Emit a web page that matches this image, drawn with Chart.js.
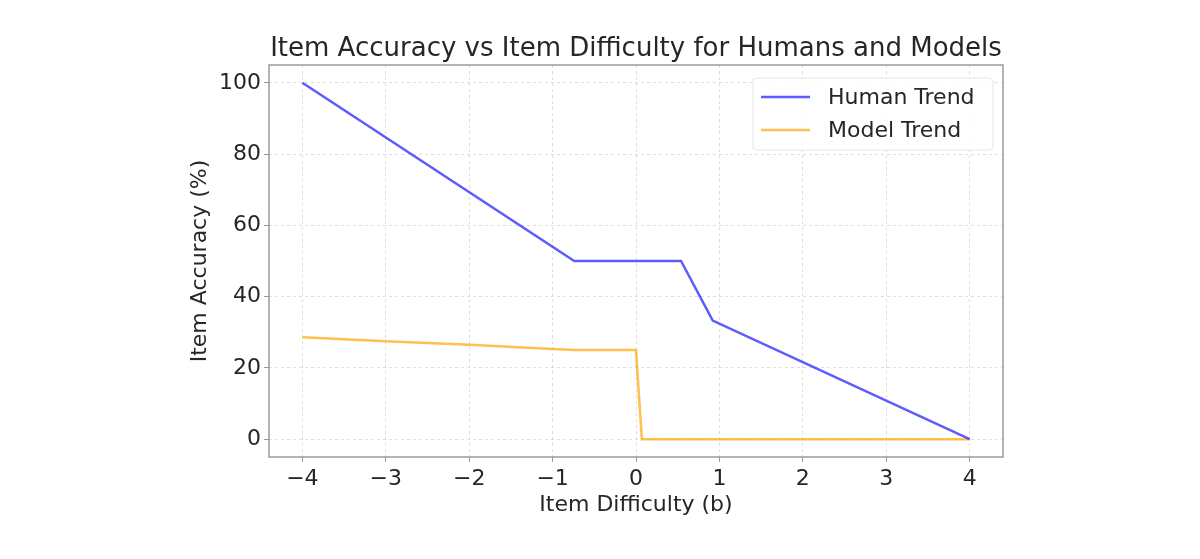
<!DOCTYPE html>
<html>
<head>
<meta charset="utf-8">
<script src="https://cdn.jsdelivr.net/npm/chart.js@4.4.1/dist/chart.umd.min.js"></script>
<style>
  html, body { margin: 0; padding: 0; background: #fff; }
  #wrap { width: 1200px; height: 559px; }
</style>
</head>
<body>
<div id="wrap"><canvas id="chart" width="1200" height="559"></canvas></div>
<script>
// trend points
const humanX = [-4, -0.74, 0.54, 0.92, 4];
const humanY = [100, 50, 50, 33.3, 0];
const modelX = [-4, -3, -2, -1, -0.73, 0, 0.07, 4];
const modelY = [28.6, 27.5, 26.5, 25.3, 25, 25, 0, 0];
const xTicks = [-4, -3, -2, -1, 0, 1, 2, 3, 4];
const yTicks = [0, 20, 40, 60, 80, 100];
const chartTitle = 'Item Accuracy vs Item Difficulty for Humans and Models';

const font = "'DejaVu Sans', sans-serif";
const textColor = '#262626';

function points(xs, ys) {
  return xs.map((x, i) => ({ x: x, y: ys[i] }));
}

// matplotlib draws a box round the axes, a title centred on it and an inside legend
const framePlugin = {
  id: 'frame',
  afterDraw(chart) {
    const { ctx, chartArea: a } = chart;
    ctx.save();
    ctx.strokeStyle = '#9a9a9a';
    ctx.lineWidth = 1.5;
    ctx.strokeRect(a.left, a.top, a.right - a.left, a.bottom - a.top);

    ctx.fillStyle = textColor;
    ctx.font = '26px ' + font;
    ctx.textAlign = 'center';
    ctx.textBaseline = 'middle';
    ctx.fillText(chartTitle, (a.left + a.right) / 2, a.top - 16);

    // legend box
    const bx = a.right - 250, by = a.top + 13, bw = 240, bh = 72;
    ctx.fillStyle = 'rgba(255,255,255,0.8)';
    ctx.strokeStyle = '#e6e6e6';
    ctx.lineWidth = 1;
    ctx.beginPath();
    ctx.roundRect(bx, by, bw, bh, 4);
    ctx.fill();
    ctx.stroke();
    ctx.font = '22px ' + font;
    ctx.textAlign = 'left';
    chart.data.datasets.forEach((ds, i) => {
      const y = by + 19 + i * 33;
      ctx.strokeStyle = ds.borderColor;
      ctx.lineWidth = ds.borderWidth;
      ctx.beginPath();
      ctx.moveTo(bx + 8, y);
      ctx.lineTo(bx + 57, y);
      ctx.stroke();
      ctx.fillStyle = textColor;
      ctx.fillText(ds.label, bx + 75, y + 1);
    });
    ctx.restore();
  }
};

const minus = v => String(v).replace('-', '\u2212');

const gridOpts = {
  color: 'rgba(200,200,200,0.6)',
  tickLength: 5,
  tickColor: '#9a9a9a',
  tickBorderDash: []
};

new Chart(document.getElementById('chart'), {
  type: 'scatter',
  data: {
    datasets: [{
      label: 'Human Trend',
      data: points(humanX, humanY),
      showLine: true,
      borderColor: 'rgba(51,51,255,0.8)',
      borderWidth: 2.5,
      pointRadius: 0,
      tension: 0
    }, {
      label: 'Model Trend',
      data: points(modelX, modelY),
      showLine: true,
      borderColor: 'rgba(255,165,0,0.7)',
      borderWidth: 2.5,
      pointRadius: 0,
      tension: 0
    }]
  },
  options: {
    responsive: false,
    animation: false,
    layout: { padding: { left: 183, right: 197, top: 65, bottom: 37 } },
    plugins: {
      legend: { display: false },
      tooltip: { enabled: false },
      title: { display: false }
    },
    scales: {
      x: {
        type: 'linear',
        min: -4.4,
        max: 4.4,
        afterBuildTicks: s => { s.ticks = xTicks.map(v => ({ value: v })); },
        afterFit: s => { s.height = 65; },
        border: { display: false, dash: [3, 3] },
        grid: gridOpts,
        ticks: {
          color: textColor,
          font: { family: font, size: 22 },
          padding: 4,
          maxRotation: 0,
          callback: v => minus(v)
        },
        title: {
          display: true,
          text: 'Item Difficulty (b)',
          color: textColor,
          font: { family: font, size: 22 },
          padding: 4
        }
      },
      y: {
        min: -5,
        max: 105,
        afterBuildTicks: s => { s.ticks = yTicks.map(v => ({ value: v })); },
        afterFit: s => { s.width = 86; },
        border: { display: false, dash: [3, 3] },
        grid: gridOpts,
        ticks: {
          color: textColor,
          font: { family: font, size: 22 },
          padding: 3
        },
        title: {
          display: true,
          text: 'Item Accuracy (%)',
          color: textColor,
          font: { family: font, size: 22 },
          padding: 4
        }
      }
    }
  },
  plugins: [framePlugin]
});
</script>
</body>
</html>
